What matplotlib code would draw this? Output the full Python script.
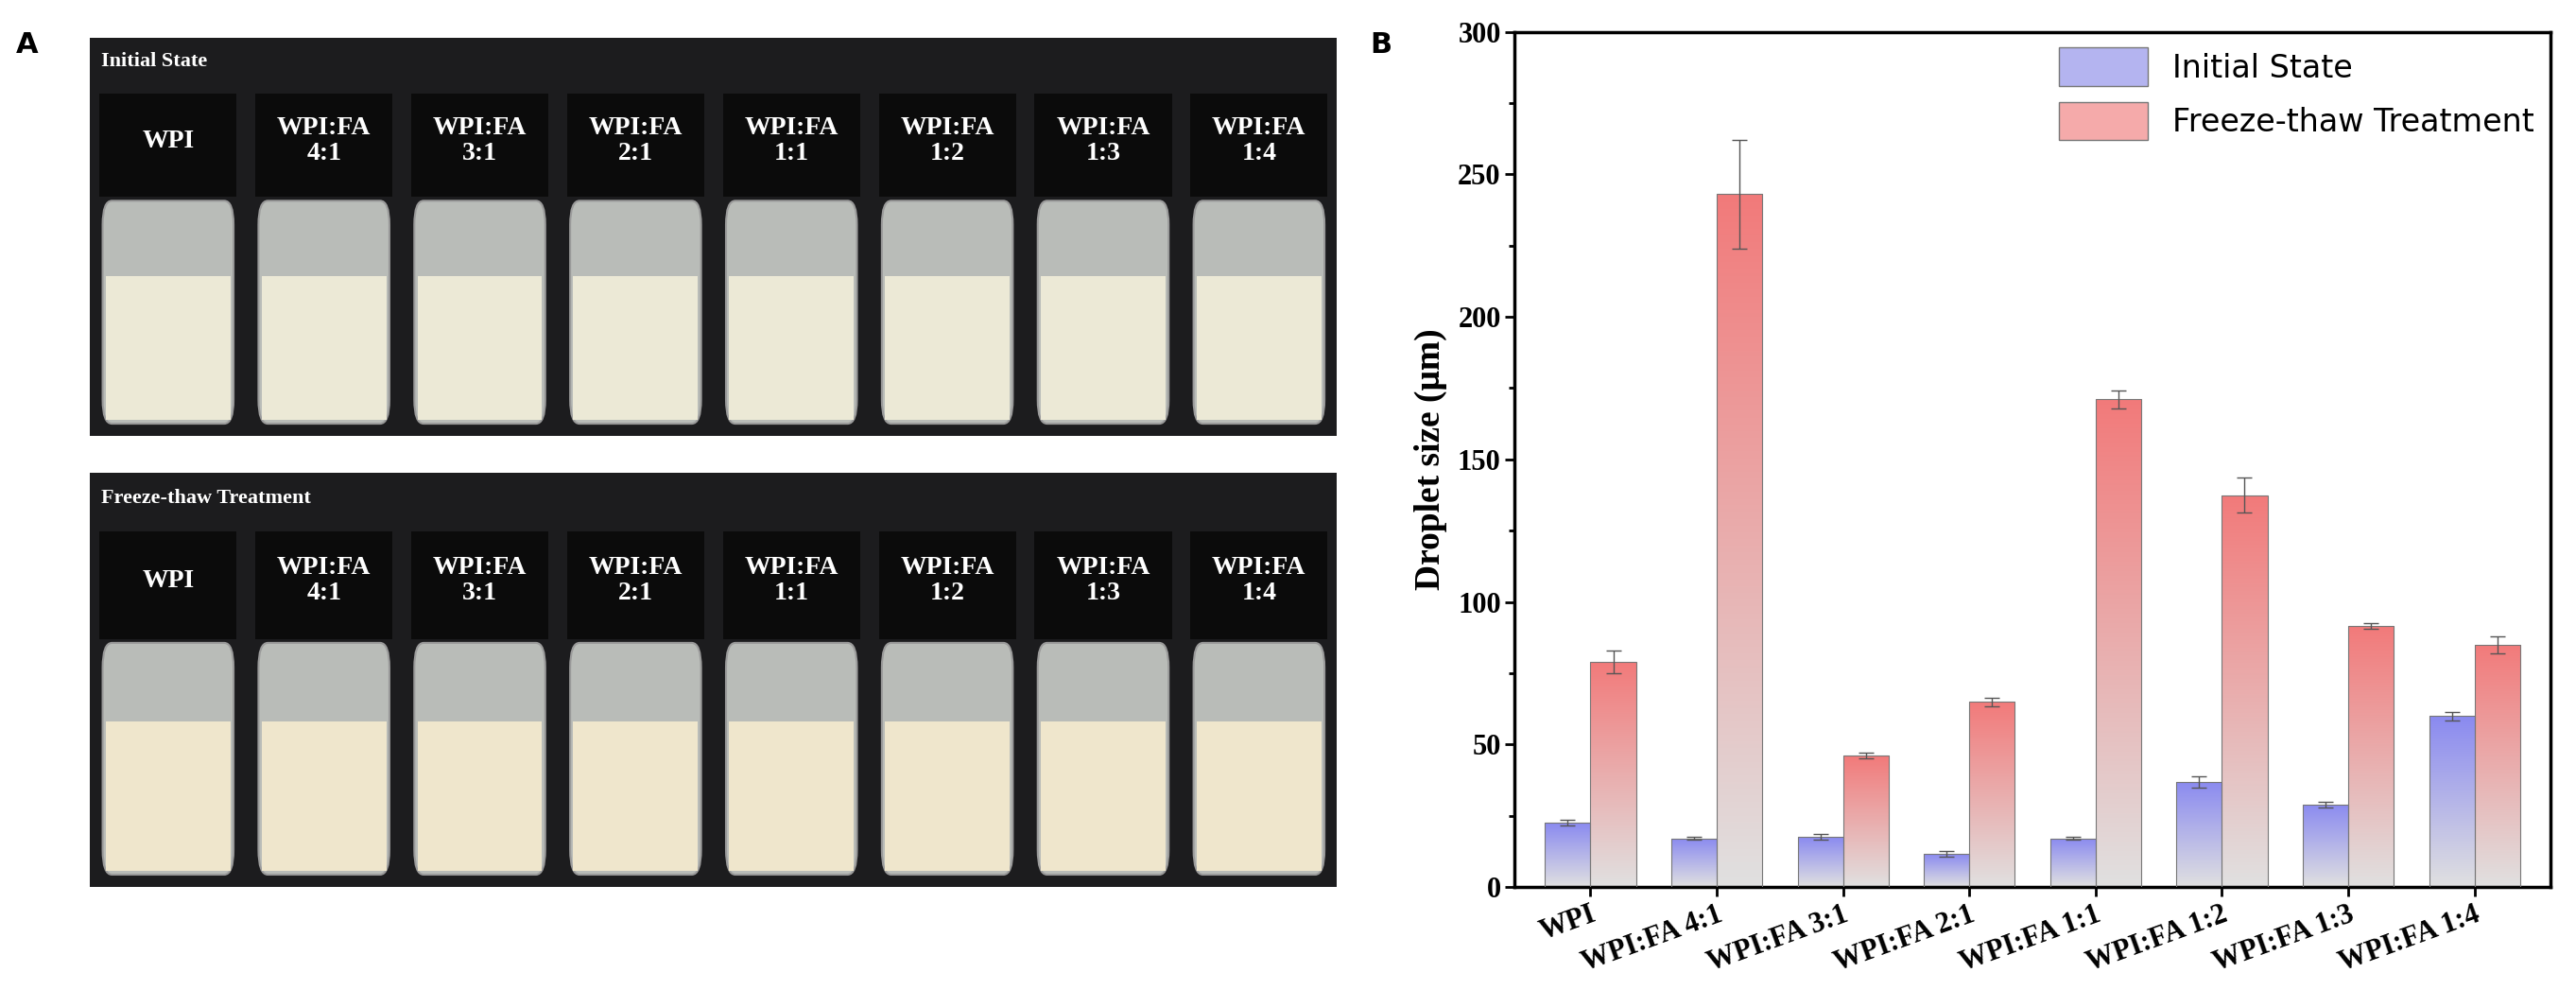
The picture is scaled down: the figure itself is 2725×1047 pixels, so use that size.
import numpy as np
import matplotlib.pyplot as plt
from matplotlib.patches import FancyBboxPatch, Rectangle, Patch
from matplotlib.ticker import MultipleLocator

labels = ['WPI', 'WPI:FA 4:1', 'WPI:FA 3:1', 'WPI:FA 2:1', 'WPI:FA 1:1', 'WPI:FA 1:2', 'WPI:FA 1:3', 'WPI:FA 1:4']
vial_labels = ['WPI', 'WPI:FA\n4:1', 'WPI:FA\n3:1', 'WPI:FA\n2:1', 'WPI:FA\n1:1', 'WPI:FA\n1:2', 'WPI:FA\n1:3', 'WPI:FA\n1:4']
initial = [22.5, 17, 17.5, 11.5, 17, 37, 29, 60]
initial_err = [1, 0.5, 1, 1, 0.5, 2, 1, 1.5]
freeze = [79, 243, 46, 65, 171, 137.5, 91.5, 85]
freeze_err = [4, 19, 1, 1.5, 3, 6, 1, 3]

plt.rcParams['font.family'] = ['Liberation Serif', 'DejaVu Serif']
fig = plt.figure(figsize=(27.25, 10.47), dpi=100)

# --- panel A: drawn stand-in for the vial photos ---
def vial_panel(rect, title, cream):
    ax = fig.add_axes(rect)
    ax.set_xlim(0, 8)
    ax.set_ylim(0, 1)
    ax.set_facecolor('#1c1c1e')
    for i in range(8):
        x = i + 0.08
        ax.add_patch(FancyBboxPatch((x, 0.03), 0.84, 0.56, boxstyle='round,pad=0,rounding_size=0.06',
                                    fc='#b9bcb8', ec='#9a9a9a', lw=1.5))
        ax.add_patch(Rectangle((x + 0.02, 0.04), 0.80, 0.36, fc=cream, ec='none'))
        ax.add_patch(Rectangle((x - 0.02, 0.6), 0.88, 0.26, fc='#0b0b0b', ec='none'))
        ax.text(i + 0.5, 0.74, vial_labels[i], color='white', ha='center', va='center',
                fontsize=20, fontweight='bold', linespacing=1.1)
    ax.text(0.07, 0.94, title, color='white', fontsize=16, fontweight='bold', va='center')
    ax.set_xticks([])
    ax.set_yticks([])
    for s in ax.spines.values():
        s.set_visible(False)

vial_panel([0.035, 0.56, 0.484, 0.402], 'Initial State', '#ece9d6')
vial_panel([0.035, 0.104, 0.484, 0.418], 'Freeze-thaw Treatment', '#efe6cc')
fig.text(0.006, 0.955, 'A', fontsize=22, fontweight='bold', family='DejaVu Sans', va='center')
fig.text(0.532, 0.955, 'B', fontsize=22, fontweight='bold', family='DejaVu Sans', va='center')

# --- panel B ---
ax = fig.add_axes([0.588, 0.104, 0.402, 0.864])
x = np.arange(len(labels))
w = 0.36

def grad_bar(xc, h, top_color):
    grad = np.linspace(0, 1, 256).reshape(-1, 1)
    top = np.array(plt.matplotlib.colors.to_rgb(top_color))
    bot = np.array([0.88, 0.88, 0.88])
    img = bot + grad[..., None] * (top - bot)
    im = ax.imshow(img, extent=[xc - w / 2, xc + w / 2, 0, h], origin='lower', aspect='auto', zorder=2)
    r = Rectangle((xc - w / 2, 0), w, h, fc='none', ec='#777777', lw=0.8, zorder=3)
    ax.add_patch(r)
    im.set_clip_path(r)

for i in range(len(labels)):
    grad_bar(x[i] - w / 2, initial[i], '#8a8af0')
    grad_bar(x[i] + w / 2, freeze[i], '#f27a7a')
ax.errorbar(x - w / 2, initial, yerr=initial_err, fmt='none', ecolor='#555555', capsize=6, lw=1, zorder=4)
ax.errorbar(x + w / 2, freeze, yerr=freeze_err, fmt='none', ecolor='#555555', capsize=6, lw=1, zorder=4)

ax.set_xlim(-0.6, 7.6)
ax.set_ylim(0, 300)
ax.set_yticks(range(0, 301, 50))
ax.yaxis.set_minor_locator(MultipleLocator(25))
ax.set_xticks(x)
ax.set_xticklabels(labels, rotation=20, ha='right', rotation_mode='anchor', fontsize=22, fontweight='bold')
ax.tick_params(axis='y', labelsize=22, width=2, length=7)
ax.tick_params(axis='y', which='minor', width=2, length=4)
ax.tick_params(axis='x', width=2, length=7)
for l in ax.get_yticklabels():
    l.set_fontweight('bold')
ax.set_ylabel('Droplet size (μm)', fontsize=27, fontweight='bold', labelpad=8)
for s in ax.spines.values():
    s.set_linewidth(2.5)

handles = [Patch(fc='#b4b4f0', ec='#777777'), Patch(fc='#f5aaaa', ec='#777777')]
ax.legend(handles, ['Initial State', 'Freeze-thaw Treatment'], loc='upper right', frameon=False,
          prop={'family': 'DejaVu Sans', 'size': 24}, handlelength=2.8, handleheight=1.5,
          borderaxespad=0.1)

fig.savefig('out.png', dpi=100)
